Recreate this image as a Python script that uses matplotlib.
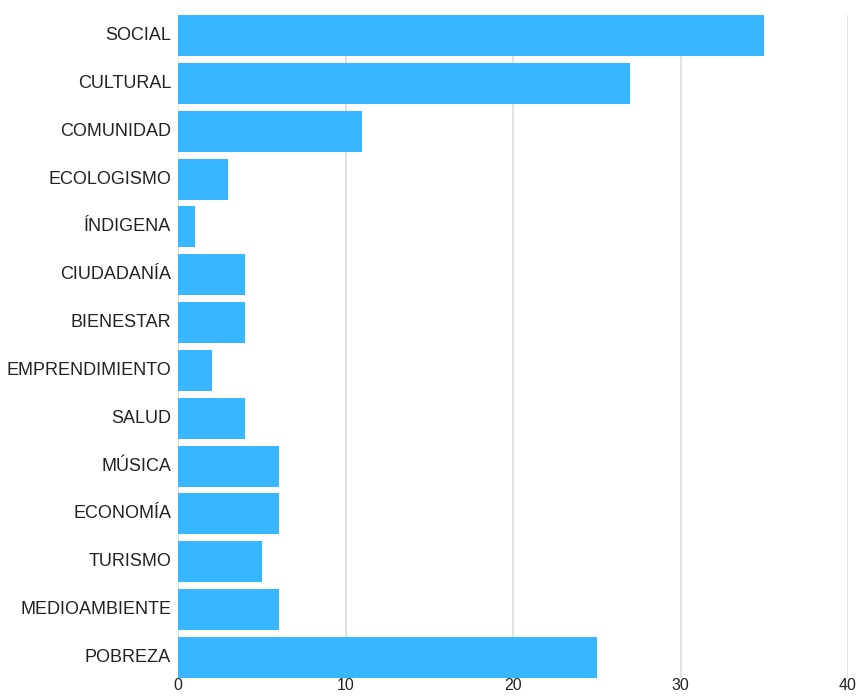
import matplotlib.pyplot as plt
import matplotlib.transforms as mtransforms
import numpy as np

plt.rcParams['font.family'] = ['Liberation Sans', 'DejaVu Sans']

categories = ['SOCIAL', 'CULTURAL', 'COMUNIDAD', 'ECOLOGISMO', 'ÍNDIGENA', 'CIUDADANÍA',
              'BIENESTAR', 'EMPRENDIMIENTO', 'SALUD', 'MÚSICA', 'ECONOMÍA', 'TURISMO',
              'MEDIOAMBIENTE', 'POBREZA']
values = [35, 27, 11, 3, 1, 4, 4, 2, 4, 6, 6, 5, 6, 25]
xticks = [0, 10, 20, 30, 40]

fig = plt.figure(figsize=(8.6, 6.97), dpi=100)
ax = fig.add_axes([178 / 860, 19 / 697, 670 / 860, 663 / 697])

y = np.arange(len(categories))
h = 0.86
ax.barh(y, values, height=h, color='#38B6FF', zorder=3)

ax.set_ylim(len(categories) - 1 + h / 2, -h / 2)
ax.set_xlim(0, 40)
ax.set_yticks(y)
ax.set_yticklabels(categories, fontsize=13, color='#222222')
ax.set_xticks(xticks)
ax.set_xticklabels([str(t) for t in xticks], fontsize=11.5, color='#222222')
ax.tick_params(axis='both', length=0)
ax.tick_params(axis='y', pad=5)
ax.tick_params(axis='x', pad=0)
ax.xaxis.grid(True, color='#dddddd', linewidth=1.2, zorder=0)
for s in ax.spines.values():
    s.set_visible(False)

# labels sit a touch above the bar centre in the original
shift = mtransforms.ScaledTranslation(0, 2 / 100, fig.dpi_scale_trans)
for lab in ax.get_yticklabels():
    lab.set_transform(lab.get_transform() + shift)

fig.savefig('out.png', dpi=100)
